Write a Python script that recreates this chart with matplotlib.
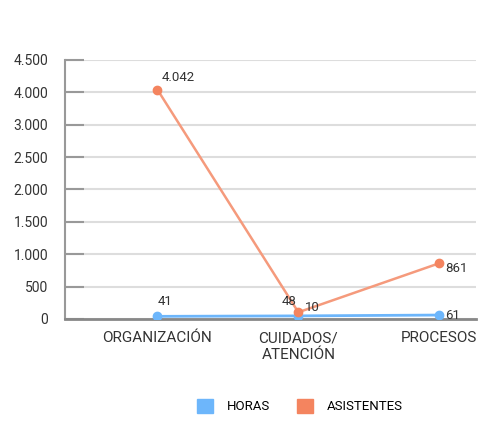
import matplotlib
matplotlib.use("Agg")
import matplotlib.pyplot as plt
from matplotlib.patches import Patch
from matplotlib.transforms import ScaledTranslation
import numpy as np

categories = ["ORGANIZACIÓN", "CUIDADOS/\nATENCIÓN", "PROCESOS"]
horas = [41, 48, 61]
asistentes = [4042, 104, 861]
horas_labels = ["41", "48", "61"]
asist_labels = ["4.042", "10", "861"]
yticks = [0, 500, 1000, 1500, 2000, 2500, 3000, 4000, 4500]
ytick_labels = ["0", "500", "1.000", "1.500", "2.000", "2.500", "3.000", "4.000", "4.500"]

plt.rcParams['font.family'] = ['Roboto', 'DejaVu Sans']

# axis in the reference places its tick values at even steps
tick_slots = np.arange(len(yticks), dtype=float)
def fwd(v):
    return np.interp(v, yticks, tick_slots)
def inv(s):
    return np.interp(s, tick_slots, yticks)

c_blue = "#6db6fb"
c_orange = "#f4845f"
c_orange_line = "#f59a7c"
txt = "#333333"

fig = plt.figure(figsize=(5, 4.4), dpi=100)
ax = fig.add_axes([0.13, 0.275, 0.822, 0.589])
ax.set_yscale("function", functions=(fwd, inv))
x = list(range(len(categories)))

ax.plot(x, horas, color=c_blue, lw=2, marker="o", ms=6, zorder=3)
ax.plot(x, asistentes, color=c_orange_line, lw=1.8, marker="o", ms=6,
        mfc=c_orange, mec=c_orange, zorder=4)

# label offsets (points) and alignments
h_off = [((0, 6), "left", "bottom"), ((-1, 6), "right", "bottom"), ((4, 0), "left", "center")]
a_off = [((3, 4), "left", "bottom"), ((5, -1), "left", "bottom"), ((4, 1), "left", "top")]
for xi, v, t, (o, ha, va) in zip(x, horas, horas_labels, h_off):
    ax.annotate(t, (xi, v), xytext=o, textcoords="offset points",
                fontsize=9.5, color=txt, ha=ha, va=va, zorder=5)
for xi, v, t, (o, ha, va) in zip(x, asistentes, asist_labels, a_off):
    ax.annotate(t, (xi, v), xytext=o, textcoords="offset points",
                fontsize=9.5, color=txt, ha=ha, va=va, zorder=5)

ax.set_ylim(0, 4500)
ax.set_xlim(-0.655, 2.26)
ax.set_yticks(yticks)
ax.set_yticklabels(ytick_labels, fontsize=10, color=txt)
ax.minorticks_off()
ax.set_xticks(x)
ax.set_xticklabels(categories, fontsize=11, color=txt, linespacing=1.25)
label_shift_px = [15, 8, 1]
for lbl, dx in zip(ax.get_xticklabels(), label_shift_px):
    lbl.set_transform(lbl.get_transform() + ScaledTranslation(dx / 100, 0, fig.dpi_scale_trans))

ax.yaxis.grid(True, color="#dddddd", lw=1.5)
ax.set_axisbelow(True)
for s in ["top", "right"]:
    ax.spines[s].set_visible(False)
ax.spines["left"].set_color("#999999")
ax.spines["left"].set_linewidth(1.5)
ax.spines["bottom"].set_color("#888888")
ax.spines["bottom"].set_linewidth(2)
ax.tick_params(axis="y", direction="in", length=14, color="#999999", width=1.5, pad=12)
ax.tick_params(axis="x", length=0, pad=9)

handles = [Patch(color=c_blue, label="HORAS"), Patch(color=c_orange, label="ASISTENTES")]
fig.legend(handles=handles, loc="center", bbox_to_anchor=(0.6, 0.077), ncol=2,
           frameon=False, fontsize=9.5, handlelength=1.2, handleheight=1.2,
           columnspacing=2.0, handletextpad=1.05)

fig.savefig("out.png", dpi=100)
